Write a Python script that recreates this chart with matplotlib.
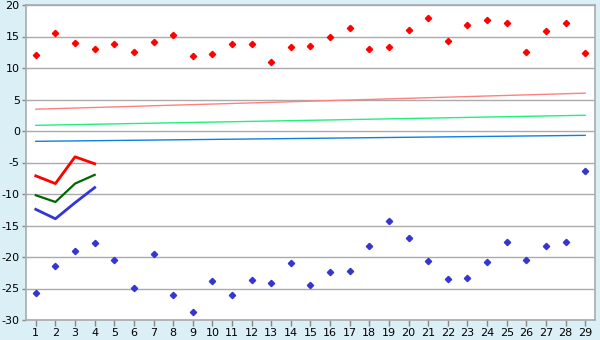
import matplotlib
matplotlib.use("Agg")
import matplotlib.pyplot as plt

days = list(range(1, 30))
max_vals = [12.07, 15.58, 13.98, 13.03, 13.82, 12.55, 14.14, 15.26, 11.9,
            12.28, 13.82, 13.82, 10.95, 13.34, 13.5, 14.94, 16.37, 13.03, 13.34,
            16.05, 17.96, 14.3, 16.85, 17.65, 17.17, 12.55, 15.9, 17.17, 12.39]
min_vals = [-25.73, -21.42, -19.03, -17.75, -20.46, -24.93, -19.51, -26.05, -28.76,
            -23.82, -26.05, -23.66, -24.14, -20.94, -24.46, -22.38, -22.22, -18.23, -14.24,
            -16.96, -20.62, -23.5, -23.34, -20.78, -17.6, -20.46, -18.23, -17.6, -6.27]
cur_days = [1, 2, 3, 4]
cur_high = [-7.12, -8.35, -4.1, -5.2]
cur_mean = [-10.2, -11.27, -8.35, -6.96]
cur_low = [-12.44, -13.93, -11.38, -8.98]
trend_days = [1, 29]
trend_high = [3.46, 6.01]
trend_mean = [0.9, 2.5]
trend_low = [-1.64, -0.69]
y_ticks = [20, 15, 10, 5, 0, -5, -10, -15, -20, -25, -30]

bg = "#DAEFF6"
fig = plt.figure(figsize=(6, 3.4), dpi=100, facecolor=bg)
ax = fig.add_axes([26/600, 1-320/340, 569/600, 315/340])
ax.set_facecolor("white")

for t in y_ticks:
    ax.axhline(t, color="#AAAAAA", lw=1, zorder=1)

ax.plot(trend_days, trend_high, color="#FF8080", lw=1, zorder=2)
ax.plot(trend_days, trend_mean, color="#20F080", lw=1, zorder=2)
ax.plot(trend_days, trend_low, color="#1080E0", lw=1, zorder=2)

ax.plot(cur_days, cur_high, color="#FF0000", lw=2, zorder=3)
ax.plot(cur_days, cur_mean, color="#006600", lw=1.6, zorder=3)
ax.plot(cur_days, cur_low, color="#3535D5", lw=2, zorder=3)

ax.plot(days, max_vals, linestyle="none", marker="D", ms=3.2, color="#FF0000",
        mec="#FF0000", zorder=4)
ax.plot(days, min_vals, linestyle="none", marker="D", ms=3.2, color="#3535D0",
        mec="#3535D0", zorder=4)

ax.set_xlim(0.5, 29.5)
ax.set_ylim(-30, 20)
ax.set_xticks(days)
ax.set_xticklabels([str(d) for d in days])
ax.set_yticks(y_ticks)
ax.set_yticklabels([str(t) for t in y_ticks])
ax.tick_params(axis="both", labelsize=8, color="#888888", width=1,
               labelcolor="black")
ax.tick_params(axis="y", length=3, pad=1.5)
ax.tick_params(axis="x", length=4, pad=2)
for s in ax.spines.values():
    s.set_color("#AAAAAA")
    s.set_linewidth(1.2)

fig.savefig("out.png", dpi=100, facecolor=bg)
